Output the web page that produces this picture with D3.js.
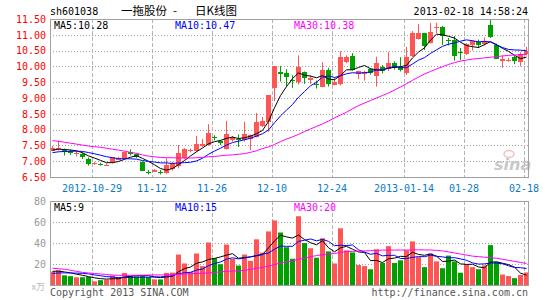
<!DOCTYPE html>
<html>
<head>
<meta charset="utf-8">
<script src="https://cdn.jsdelivr.net/npm/d3@7"></script>
<style>
  body { margin: 0; background: #fff; }
  svg { display: block; }
</style>
</head>
<body>
<svg id="chart" width="545" height="300"></svg>
<script>
// trading days shown (one candle each)
const dates = [
  "2012-10-18","2012-10-19","2012-10-22","2012-10-23","2012-10-24","2012-10-25","2012-10-26","2012-10-29","2012-10-30","2012-10-31",
  "2012-11-01","2012-11-02","2012-11-05","2012-11-06","2012-11-07","2012-11-08","2012-11-09","2012-11-12","2012-11-13","2012-11-14",
  "2012-11-15","2012-11-16","2012-11-19","2012-11-20","2012-11-21","2012-11-22","2012-11-23","2012-11-26","2012-11-27","2012-11-28",
  "2012-11-29","2012-11-30","2012-12-03","2012-12-04","2012-12-05","2012-12-06","2012-12-07","2012-12-10","2012-12-11","2012-12-12",
  "2012-12-13","2012-12-14","2012-12-17","2012-12-18","2012-12-19","2012-12-20","2012-12-21","2012-12-24","2012-12-25","2012-12-26",
  "2012-12-27","2012-12-28","2012-12-31","2013-01-04","2013-01-07","2013-01-08","2013-01-09","2013-01-10","2013-01-11","2013-01-14",
  "2013-01-15","2013-01-16","2013-01-17","2013-01-18","2013-01-21","2013-01-22","2013-01-23","2013-01-24","2013-01-25","2013-01-28",
  "2013-01-29","2013-01-30","2013-01-31","2013-02-01","2013-02-04","2013-02-05","2013-02-06","2013-02-07","2013-02-08","2013-02-18"
];

const open = [
  7.34, 7.41, 7.34, 7.33, 7.22, 7.23, 7.08, 6.91, 6.92, 6.87,
  6.95, 7.05, 7.09, 7.30, 7.22, 6.98, 6.66, 6.68, 6.66, 6.62,
  6.75, 6.83, 7.10, 7.34, 7.32, 7.50, 7.51, 7.76, 7.63, 7.40,
  7.65, 7.69, 7.66, 7.70, 7.78, 8.11, 8.25, 9.31, 9.81, 9.80,
  9.58, 9.50, 9.83, 9.57, 9.43, 9.36, 9.89, 9.43, 9.43, 10.13,
  10.34, 9.75, 9.76, 9.91, 9.72, 9.99, 9.92, 10.12, 9.99, 9.80,
  10.33, 10.87, 11.05, 10.74, 11.22, 11.26, 10.83, 10.84, 10.47, 10.39,
  10.68, 10.78, 10.70, 11.31, 10.68, 10.15, 10.18, 10.31, 10.12, 10.40
];
const high = [
  7.48, 7.65, 7.40, 7.37, 7.32, 7.27, 7.12, 6.97, 6.95, 6.93,
  7.13, 7.14, 7.30, 7.38, 7.24, 7.00, 6.72, 6.75, 6.72, 7.10,
  6.98, 7.51, 7.41, 7.40, 7.80, 7.70, 8.17, 7.82, 7.66, 8.28,
  7.80, 7.85, 8.25, 7.84, 8.53, 8.40, 9.09, 10.01, 10.01, 9.91,
  9.72, 10.35, 9.84, 9.72, 9.55, 10.13, 9.96, 9.64, 10.48, 10.35,
  10.42, 9.86, 9.86, 9.95, 10.31, 10.04, 10.45, 10.16, 10.29, 10.62,
  11.12, 11.34, 11.06, 11.37, 11.38, 11.28, 10.90, 10.96, 10.58, 10.74,
  10.83, 10.85, 10.92, 11.50, 10.72, 10.35, 10.27, 10.33, 10.45, 10.62
];
const low = [
  7.32, 7.34, 7.18, 7.20, 7.15, 7.07, 6.86, 6.88, 6.86, 6.85,
  6.93, 7.03, 7.06, 7.18, 7.10, 6.69, 6.58, 6.66, 6.58, 6.60,
  6.70, 6.77, 7.06, 7.28, 7.30, 7.45, 7.49, 7.66, 7.51, 7.37,
  7.62, 7.45, 7.62, 7.35, 7.75, 8.08, 7.93, 8.90, 9.52, 9.36,
  9.32, 9.43, 9.45, 9.45, 9.30, 9.34, 9.36, 9.40, 9.40, 10.10,
  9.87, 9.60, 9.55, 9.74, 9.36, 9.78, 9.85, 9.90, 9.84, 9.73,
  10.30, 10.85, 10.52, 10.72, 11.05, 10.68, 10.66, 10.18, 10.20, 10.36,
  10.50, 10.58, 10.66, 10.90, 10.23, 9.96, 10.15, 10.07, 10.00, 10.35
];
const close = [
  7.43, 7.43, 7.27, 7.27, 7.25, 7.12, 6.93, 6.93, 6.90, 6.89,
  7.12, 7.11, 7.28, 7.23, 7.13, 6.70, 6.64, 6.73, 6.64, 6.88,
  6.95, 7.25, 7.39, 7.36, 7.54, 7.55, 7.90, 7.74, 7.56, 7.86,
  7.76, 7.67, 7.85, 7.82, 8.25, 8.28, 9.09, 10.01, 9.75, 9.67,
  9.55, 9.99, 9.64, 9.62, 9.40, 9.89, 9.46, 9.52, 10.29, 10.30,
  9.89, 9.84, 9.82, 9.78, 10.12, 9.87, 10.12, 9.97, 9.88, 10.30,
  11.07, 11.05, 10.63, 11.10, 11.24, 10.99, 10.81, 10.34, 10.45, 10.71,
  10.81, 10.68, 10.80, 10.92, 10.24, 10.22, 10.20, 10.18, 10.38, 10.50
];
// volume in 万手
const volume = [
  12.7, 14, 9.2, 8.4, 7.3, 7.4, 7.6, 3.5, 4.6, 5,
  9, 7.5, 11.5, 8.6, 8.3, 8.8, 7.5, 5.3, 5.3, 11.5,
  11.8, 29, 20.5, 12.5, 30, 18, 40.5, 25.5, 19.8, 38.5,
  25, 18.5, 29, 23, 43.5, 30.8, 51, 61.5, 50, 36,
  25, 65.5, 40, 35, 26, 44.5, 32, 20.5, 54, 33,
  31, 19, 18, 15, 34, 21, 37, 21, 23.5, 33,
  41.5, 26.5, 17, 30, 22.5, 16, 28, 22.5, 11.7, 19.7,
  17, 15, 18.7, 38, 22, 10, 8.5, 6.5, 9.5, 12
];

// closes / volumes of the days just before the window (for MA5, MA10)
const prevClose = [7.15, 7.18, 7.20, 7.22, 7.20, 7.28, 7.32, 7.35, 7.37];
const prevVolume = [9, 9, 9, 9, 9, 13, 13, 13, 13.3];

// 30-day averages
const priceMa30 = [
  7.65, 7.63, 7.60, 7.57, 7.54, 7.51, 7.48, 7.46, 7.44, 7.41,
  7.38, 7.35, 7.32, 7.28, 7.25, 7.20, 7.16, 7.14, 7.12, 7.11,
  7.11, 7.10, 7.10, 7.10, 7.11, 7.12, 7.14, 7.15, 7.17, 7.19,
  7.20, 7.22, 7.24, 7.28, 7.33, 7.40, 7.45, 7.53, 7.62, 7.70,
  7.77, 7.85, 7.94, 8.02, 8.10, 8.18, 8.27, 8.37, 8.46, 8.55,
  8.66, 8.76, 8.84, 8.92, 9.00, 9.08, 9.16, 9.25, 9.35, 9.45,
  9.56, 9.66, 9.76, 9.84, 9.92, 9.99, 10.06, 10.12, 10.17, 10.20,
  10.23, 10.25, 10.27, 10.29, 10.31, 10.33, 10.35, 10.36, 10.37, 10.38
];
const volumeMa30 = [
  16, 15.5, 15, 14, 13, 12, 11.5, 11, 10.5, 10,
  9.5, 9.2, 9.2, 9.2, 9.3, 9.4, 9.5, 9.6, 9.6, 9.7,
  9.8, 10.2, 10.5, 10.7, 11, 11.2, 11.5, 12, 12.5, 13,
  13.3, 13.5, 14, 15, 15.8, 16.8, 18, 19.5, 21, 22,
  23, 24.5, 25.5, 27, 28, 28.8, 29.5, 30, 31, 31.8,
  32, 32.3, 32.5, 32.6, 33, 33.2, 33.3, 33.3, 33.3, 33.3,
  33.4, 33.5, 33.4, 33.3, 33, 32.5, 31.5, 30.5, 29.5, 28.5,
  27.5, 27, 26.5, 26, 25.5, 24.5, 23.5, 22.5, 21.5, 20.5
];

const priceTicks = [6.5, 7, 7.5, 8, 8.5, 9, 9.5, 10, 10.5, 11, 11.5];
const volumeTicks = [20, 40, 60, 80];
const tickDates = ["2012-10-29","2012-11-12","2012-11-26","2012-12-10","2012-12-24","2013-01-14","2013-01-28","2013-02-18"];
const tickLabels = ["2012-10-29","11-12","11-26","12-10","12-24","2013-01-14","01-28","02-18"];

const titleParts = ["一拖股份", "-", "日K线图"];
const priceMaLabels = ["MA5:10.28", "MA10:10.47", "MA30:10.38"];
const volumeMaLabels = ["MA5:9", "MA10:15", "MA30:20"];

const MONO = "'DejaVu Sans Mono', 'Liberation Mono', monospace";
const CJK = "'Noto Sans CJK SC', sans-serif";
const RED = "#ff5555";
const GREEN = "#00a000";
const maColors = ["#000000", "#0000ff", "#ff00ff"];

const svg = d3.select("#chart");

// plot boxes
const left = 50, right = 528;
const priceTop = 19, priceBottom = 177;
const volTop = 201, volBottom = 285;

const x = d3.scaleBand().domain(dates).range([left - 1, right + 1]);
const yPrice = d3.scaleLinear().domain([6.5, 11.5]).range([priceBottom, priceTop]);
const yVol = d3.scaleLinear().domain([0, 80]).range([volBottom, volTop]);

function movingAverage(values, prior, n) {
  const all = prior.concat(values);
  return values.map((v, i) => d3.mean(all.slice(i + prior.length - n + 1, i + prior.length + 1)));
}

const priceMa = [movingAverage(close, prevClose, 5), movingAverage(close, prevClose, 10), priceMa30];
const volumeMa = [movingAverage(volume, prevVolume, 5), movingAverage(volume, prevVolume, 10), volumeMa30];

const idx = d3.range(dates.length);
const isUp = i => close[i] >= open[i];
const cx = i => x(dates[i]) + 3.5;
const gridX = d => x(d) + 1.5;

// header
svg.append("text").attr("x", 50).attr("y", 15)
  .attr("font-family", MONO).attr("font-size", 10).attr("fill", "#000")
  .text("sh601038");
const titleX = [121, 173, 195];
svg.append("g")
  .selectAll("text")
  .data(titleParts)
  .join("text")
  .attr("x", (d, i) => titleX[i]).attr("y", 15)
  .attr("font-family", CJK).attr("font-size", 11.5).attr("fill", "#000")
  .text(d => d);
svg.append("text").attr("x", 528).attr("y", 15).attr("text-anchor", "end")
  .attr("font-family", MONO).attr("font-size", 10).attr("fill", "#000")
  .text("2013-02-18 14:58:24");

// grids for both panels
function drawGrid(top, bottom, yScale, ticks) {
  svg.append("g")
    .selectAll("line")
    .data(ticks.filter(t => yScale(t) > top + 1 && yScale(t) < bottom - 1))
    .join("line")
    .attr("x1", left).attr("x2", right)
    .attr("y1", d => Math.round(yScale(d)) + 0.5)
    .attr("y2", d => Math.round(yScale(d)) + 0.5)
    .attr("stroke", "#a0a0a0").attr("stroke-dasharray", "1,2");
  svg.append("g")
    .selectAll("line")
    .data(tickDates)
    .join("line")
    .attr("x1", gridX).attr("x2", gridX)
    .attr("y1", top).attr("y2", bottom)
    .attr("stroke", "#b4b4b4").attr("stroke-dasharray", "4,2");
}
drawGrid(priceTop, priceBottom, yPrice, priceTicks);
drawGrid(volTop, volBottom, yVol, volumeTicks);

// sina watermark
const mark = svg.append("g").attr("opacity", 0.9);
mark.append("ellipse").attr("cx", 509).attr("cy", 154).attr("rx", 5).attr("ry", 3.5)
  .attr("fill", "none").attr("stroke", "#f2b8b8").attr("stroke-width", 1.5);
mark.append("text").attr("x", 494).attr("y", 170)
  .attr("font-family", "'DejaVu Sans', sans-serif").attr("font-size", 16)
  .attr("font-weight", "bold").attr("font-style", "italic").attr("fill", "#c4c4c4")
  .text("sina");

// candles
const candles = svg.append("g");
candles.selectAll("line")
  .data(idx)
  .join("line")
  .attr("x1", cx).attr("x2", cx)
  .attr("y1", i => yPrice(high[i]))
  .attr("y2", i => yPrice(low[i]))
  .attr("stroke", i => isUp(i) ? RED : GREEN);
candles.selectAll("rect")
  .data(idx)
  .join("rect")
  .attr("x", i => x(dates[i]) + 1)
  .attr("width", 5)
  .attr("y", i => Math.round(yPrice(Math.max(open[i], close[i]))))
  .attr("height", i => Math.max(1, Math.round(Math.abs(yPrice(open[i]) - yPrice(close[i])))))
  .attr("fill", i => isUp(i) ? RED : GREEN);

// volume bars
svg.append("g")
  .selectAll("rect")
  .data(idx)
  .join("rect")
  .attr("x", i => x(dates[i]) + 1)
  .attr("width", 5)
  .attr("y", i => yVol(volume[i]))
  .attr("height", i => yVol(0) - yVol(volume[i]))
  .attr("fill", i => isUp(i) ? RED : GREEN);

// moving average lines
function drawLines(series, yScale) {
  const line = d3.line().x((d, i) => cx(i)).y(d => yScale(d));
  svg.append("g")
    .selectAll("path")
    .data(series)
    .join("path")
    .attr("d", d => line(d))
    .attr("fill", "none")
    .attr("stroke", (d, i) => maColors[i])
    .attr("stroke-width", 1);
}
drawLines(priceMa, yPrice);
drawLines(volumeMa, yVol);

// frames
[[priceTop, priceBottom], [volTop, volBottom]].forEach(([t, b]) => {
  svg.append("rect")
    .attr("x", left + 0.5).attr("y", t + 0.5)
    .attr("width", right - left).attr("height", b - t)
    .attr("fill", "none").attr("stroke", "#a0a0a0");
});

// MA legends
const legendX = [54, 175, 294];
function drawLegend(labels, y) {
  svg.append("g")
    .selectAll("text")
    .data(labels)
    .join("text")
    .attr("x", (d, i) => legendX[i]).attr("y", y)
    .attr("font-family", MONO).attr("font-size", 10)
    .attr("fill", (d, i) => maColors[i])
    .text(d => d);
}
drawLegend(priceMaLabels, 29);
drawLegend(volumeMaLabels, 211);

// y axes
function styleAxis(g, color) {
  g.select(".domain").remove();
  g.selectAll("text").attr("font-family", MONO).attr("font-size", 10).attr("fill", color);
}
svg.append("g")
  .attr("transform", `translate(${left},0)`)
  .call(d3.axisLeft(yPrice).tickValues(priceTicks).tickSize(0).tickPadding(4)
    .tickFormat(d => d.toFixed(2)))
  .call(g => styleAxis(g, "#ff0000"));
svg.append("g")
  .attr("transform", `translate(${left},0)`)
  .call(d3.axisLeft(yVol).tickValues(volumeTicks).tickSize(0).tickPadding(4))
  .call(g => styleAxis(g, "#999999"));
svg.append("text").attr("x", 45).attr("y", 290).attr("text-anchor", "end")
  .attr("font-family", CJK).attr("font-size", 9).attr("fill", "#b8b8b8")
  .text("x万");

// x axis (date labels)
svg.append("g")
  .attr("transform", `translate(-2,${priceBottom + 6})`)
  .call(d3.axisBottom(x).tickValues(tickDates).tickSize(0).tickPadding(2)
    .tickFormat((d, i) => tickLabels[i]))
  .call(g => styleAxis(g, "#0a7ac6"));

// footer
svg.append("text").attr("x", 50).attr("y", 296)
  .attr("font-family", MONO).attr("font-size", 10).attr("fill", "#555")
  .text("Copyright 2013 SINA.COM");
svg.append("text").attr("x", 528).attr("y", 296).attr("text-anchor", "end")
  .attr("font-family", MONO).attr("font-size", 10).attr("fill", "#555")
  .text("http://finance.sina.com.cn");
</script>
</body>
</html>
